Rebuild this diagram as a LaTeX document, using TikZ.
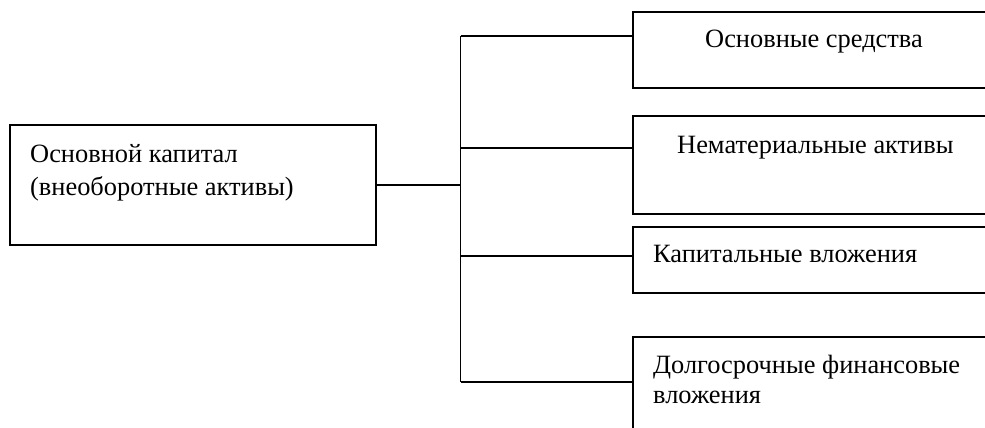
\documentclass[tikz,border=0pt]{standalone}
\usepackage{fontspec}
\setmainfont{Liberation Serif}
\tikzset{
  box/.style={draw=black, line width=1.4bp, rectangle, inner sep=0pt, outer sep=0pt, anchor=north west},
  lbl/.style={anchor=base west, inner sep=0pt, font=\fontsize{26.5}{32.5}\selectfont, align=left},
  conn/.style={draw=black, line width=1.4bp}
}
\begin{document}
\begin{tikzpicture}[x=1bp,y=-1bp]
\useasboundingbox (0,0) rectangle (985,427);
\clip (0,0) rectangle (985,427);
% boxes
\node[box, minimum width=366bp, minimum height=120bp] (L) at (10,125) {};
\node[box, minimum width=380bp, minimum height=76bp] (B1) at (633,12) {};
\node[box, minimum width=380bp, minimum height=98bp] (B2) at (633,116) {};
\node[box, minimum width=380bp, minimum height=66bp] (B3) at (633,227) {};
\node[box, minimum width=380bp, minimum height=120bp] (B4) at (633,337) {};
% texts
\node[lbl] (tL1) at (30,162) {Основной капитал};
\node[lbl] (tL2) at (30,195) {(внеоборотные активы)};
\node[lbl] (t1) at (705,47) {Основные средства};
\node[lbl] (t2) at (677,153) {Нематериальные активы};
\node[lbl] (t3) at (653,262) {Капитальные вложения};
\node[lbl] (t4a) at (653,373) {Долгосрочные финансовые};
\node[lbl] (t4b) at (653,403) {вложения};
% bus
\coordinate (b1) at (460.5,36);
\coordinate (b2) at (460.5,148);
\coordinate (b3) at (460.5,256);
\coordinate (b4) at (460.5,382);
\coordinate (bm) at (L.east -| b1);
\draw[conn] (L.east) -- (bm);
\draw[conn] (b1) -- (b4);
\draw[conn] (b1) -- (B1.west |- b1);
\draw[conn] (b2) -- (B2.west |- b2);
\draw[conn] (b3) -- (B3.west |- b3);
\draw[conn] (b4) -- (B4.west |- b4);
\end{tikzpicture}
\end{document}
